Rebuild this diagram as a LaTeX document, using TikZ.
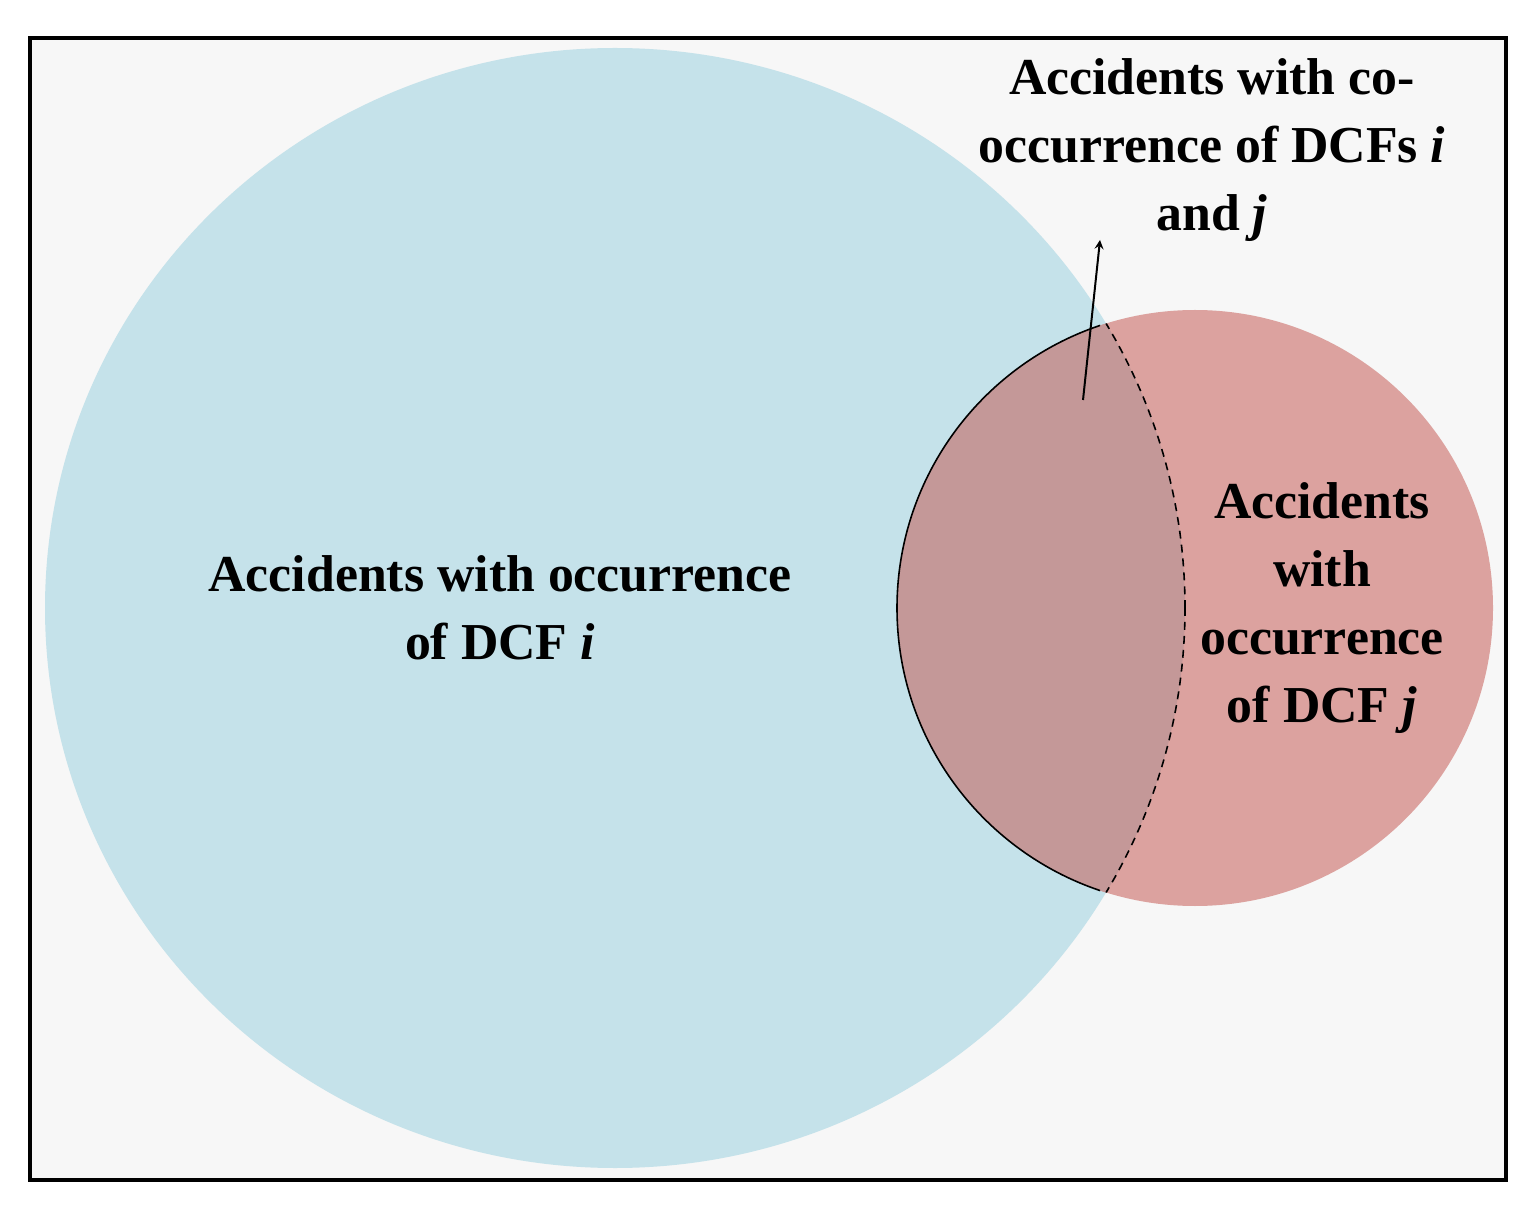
\documentclass[tikz,border=0pt]{standalone}
\usepackage{fontspec}
\setmainfont{Liberation Serif}
\begin{document}
\begin{tikzpicture}[x=0.5bp,y=-0.5bp,
  lab/.style={font=\fontsize{26}{34}\selectfont\bfseries,align=center,text=black}]
\useasboundingbox (0,0) rectangle (1536,1207);
\fill[white] (0,0) rectangle (1536,1207);
\fill[black!3] (30,38) rectangle (1506,1180);
\fill[color={rgb,255:red,197;green,226;blue,234}] (615,608) ellipse [x radius=570,y radius=560];
\fill[color={rgb,255:red,220;green,162;blue,159}] (1195,608) circle [radius=298];
\begin{scope}
\clip (615,608) ellipse [x radius=570,y radius=560];
\fill[color={rgb,255:red,196;green,152;blue,152}] (1195,608) circle [radius=298];
\end{scope}
\begin{scope}
\clip (0,0) rectangle (1100,1207);
\draw[line width=0.8pt] (1195,608) circle [radius=298];
\end{scope}
\begin{scope}
\clip (1195,608) circle [radius=298];
\draw[line width=0.8pt,dash pattern=on 4pt off 3pt] (615,608) ellipse [x radius=570,y radius=560];
\end{scope}
\draw[line width=2pt] (30,38) rectangle (1506,1180);
\coordinate (s) at (1083,400);
\node[lab] (top) at (1212,150) {Accidents with co-\\occurrence of DCFs \textit{i}\\and \textit{j}};
\coordinate (e) at (1100,240);
\draw[-stealth,line width=1pt] (s) -- (e);
\node[lab] (ci) at (500,608) {Accidents with occurrence\\of DCF \textit{i}};
\node[lab] (cj) at (1322,608) {Accidents\\with\\occurrence\\of DCF \textit{j}};
\end{tikzpicture}
\end{document}
